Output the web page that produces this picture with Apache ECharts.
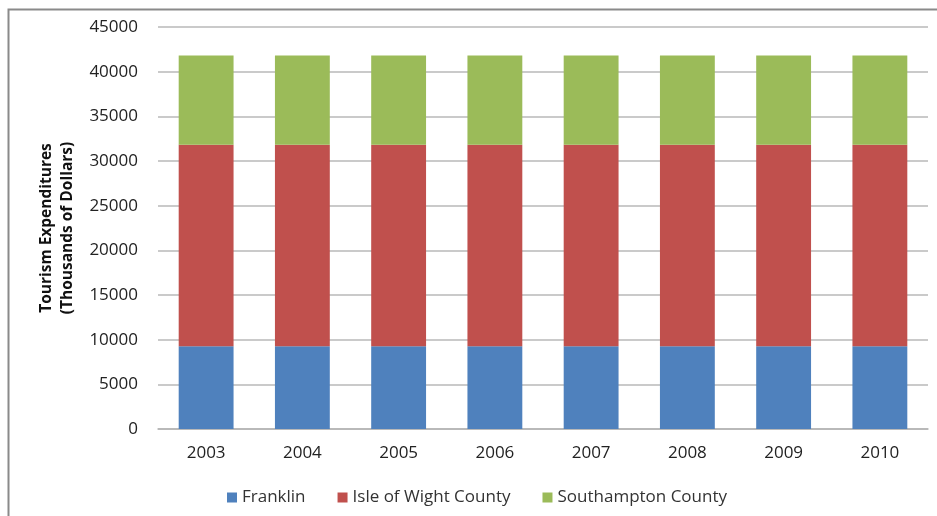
<!DOCTYPE html>
<html>
<head>
<meta charset="utf-8">
<script src="https://cdn.jsdelivr.net/npm/echarts@6/dist/echarts.min.js"></script>
<style>
  html, body { margin: 0; padding: 0; background: #fff; }
  #chart { width: 937px; height: 516px; }
</style>
</head>
<body>
<div id="chart"></div>
<script>
// years on the x axis
var years = ['2003', '2004', '2005', '2006', '2007', '2008', '2009', '2010'];
// stacked series, thousands of dollars
var franklin = [9250, 9250, 9250, 9250, 9250, 9250, 9250, 9250];
var isleOfWight = [22575, 22575, 22575, 22575, 22575, 22575, 22575, 22575];
var southampton = [9995, 9995, 9995, 9995, 9995, 9995, 9995, 9995];
var seriesNames = ['Franklin', 'Isle of Wight County', 'Southampton County'];

var FONT = '"Open Sans", "Liberation Sans", sans-serif';

var myChart = echarts.init(document.getElementById('chart'));
var option = {
    animation: false,
    color: ['#4F81BD', '#C0504D', '#9BBB59'],
    // outer frame of the chart area
    graphic: [{
        type: 'rect',
        left: 6, top: 7,
        shape: { width: 1000, height: 600 },
        style: { fill: 'none', stroke: '#8a8a8a', lineWidth: 2 }
    }],
    grid: { left: 158, right: 9, top: 27, bottom: 87 },
    legend: {
        data: seriesNames,
        left: 222, top: 484,
        itemWidth: 10, itemHeight: 10, itemGap: 32,
        icon: 'rect',
        textStyle: { fontFamily: FONT, fontSize: 17, color: '#333' }
    },
    xAxis: {
        type: 'category',
        data: years,
        axisTick: { show: false },
        axisLine: { lineStyle: { color: '#b4b4b4', width: 1.5 } },
        axisLabel: { fontFamily: FONT, fontSize: 17, color: '#222', margin: 16 }
    },
    yAxis: {
        type: 'value',
        min: 0, max: 45000, interval: 5000,
        name: 'Tourism Expenditures\n(Thousands of Dollars)',
        nameLocation: 'middle',
        nameGap: 78,
        nameTextStyle: { fontFamily: FONT, fontSize: 15.5, fontWeight: 'bold', color: '#111', lineHeight: 21 },
        axisLine: { show: false },
        axisTick: { show: false },
        splitLine: { lineStyle: { color: '#b8b8b8', width: 1.5 } },
        axisLabel: {
            fontFamily: FONT, fontSize: 17, color: '#222', margin: 20,
            formatter: function (v) { return String(v); }
        }
    },
    series: [
        { name: seriesNames[0], type: 'bar', stack: 'total', barWidth: '57%', data: franklin },
        { name: seriesNames[1], type: 'bar', stack: 'total', barWidth: '57%', data: isleOfWight },
        { name: seriesNames[2], type: 'bar', stack: 'total', barWidth: '57%', data: southampton }
    ]
};
myChart.setOption(option);
</script>
</body>
</html>
